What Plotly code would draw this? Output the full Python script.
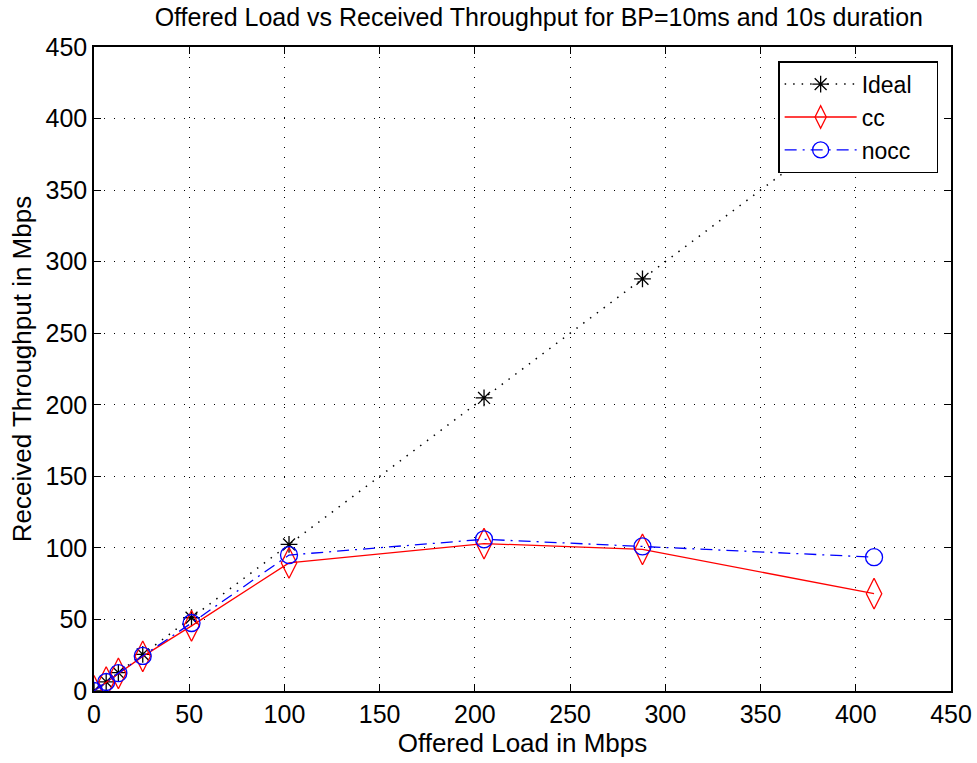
import plotly.graph_objects as go

offered_load = [0, 6.4, 12.8, 25.6, 51.2, 102.4, 204.8, 288, 409.6]
ideal = [0, 6.4, 12.8, 25.6, 51.2, 102.4, 204.8, 288, 409.6]
cc = [0, 6.2, 12.3, 24.2, 45.5, 89.5, 103, 99, 68]
nocc = [0, 6.3, 12.5, 24.5, 47.5, 95, 106, 101, 93.5]
series_names = ["Ideal", "cc", "nocc"]
tick_vals = [0, 50, 100, 150, 200, 250, 300, 350, 400, 450]

FONT = "Liberation Sans, Arial, Helvetica, sans-serif"
PAD = "\u00a0\u00a0\u00a0"  # right padding inside the legend box

fig = go.Figure()
fig.add_trace(go.Scatter(
    x=offered_load, y=ideal, name=series_names[0] + PAD, mode="lines+markers",
    line=dict(color="black", width=1.5, dash="1.5px,7px"),
    marker=dict(symbol="asterisk-open", size=14, color="black", line=dict(color="black", width=1.3)),
))
fig.add_trace(go.Scatter(
    x=offered_load, y=cc, name=series_names[1] + PAD, mode="lines+markers",
    line=dict(color="red", width=1.3),
    marker=dict(symbol="diamond-tall-open", size=22, color="red", line=dict(color="red", width=1.3)),
))
fig.add_trace(go.Scatter(
    x=offered_load, y=nocc, name=series_names[2] + PAD, mode="lines+markers",
    line=dict(color="blue", width=1.3, dash="12px,6px,2px,6px"),
    marker=dict(symbol="circle-open", size=17, color="blue", line=dict(color="blue", width=1.3)),
))

axis_common = dict(
    showline=True, linecolor="black", linewidth=1.5, mirror="ticks",
    ticks="inside", ticklen=7, tickwidth=1, tickcolor="black",
    showgrid=True, gridcolor="black", gridwidth=1, griddash="1px,9px",
    zeroline=False, tickfont=dict(family=FONT, size=25, color="black"),
    tickvals=tick_vals, range=[0, 450], automargin=False,
)

fig.update_layout(
    width=977, height=763,
    paper_bgcolor="white", plot_bgcolor="white",
    margin=dict(l=94, r=26, t=47, b=72),
    font=dict(family=FONT, size=25, color="black"),
    title=dict(
        text="Offered Load vs Received Throughput for BP=10ms and 10s duration",
        x=0.519, xref="paper", xanchor="center", y=1 - 8 / 763, yanchor="top",
        font=dict(family=FONT, size=25, color="black"),
    ),
    xaxis=dict(**axis_common, title=dict(text="Offered Load in Mbps", standoff=4,
                                         font=dict(family=FONT, size=26))),
    yaxis=dict(**axis_common, title=dict(text="Received Throughput in Mbps", standoff=6,
                                         font=dict(family=FONT, size=26))),
    legend=dict(
        x=0.985, y=0.978, xanchor="right", yanchor="top",
        bgcolor="white", bordercolor="black", borderwidth=1.5,
        font=dict(family=FONT, size=23, color="black"),
        itemwidth=72, tracegroupgap=0,
    ),
    showlegend=True,
)

fig.write_html("out.html", config={"displayModeBar": False},
               post_script="document.body.style.margin='0px';")
